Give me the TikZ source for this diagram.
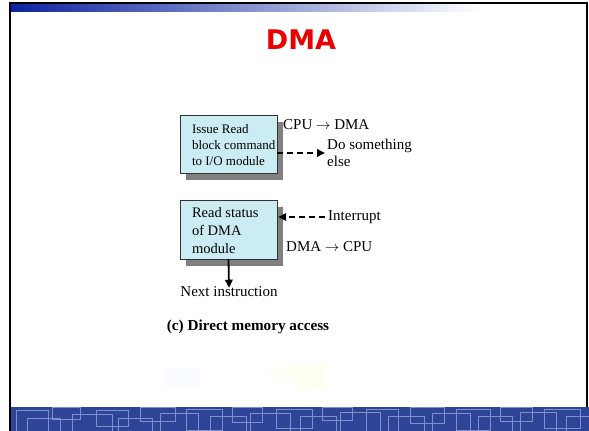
\documentclass[tikz,border=0pt]{standalone}
\usepackage{fontspec}
\setmainfont{Liberation Serif}
\newfontfamily\titlefont{DejaVu Sans}
\usetikzlibrary{arrows.meta,shadows,positioning}
\definecolor{boxfill}{RGB}{204,236,244}
\definecolor{barblue}{RGB}{12,34,160}
\definecolor{bandblue}{RGB}{46,68,150}
\definecolor{bandline}{RGB}{128,144,205}
\definecolor{titlered}{RGB}{235,0,0}
\newcommand{\boxlines}[1]{\begin{tabular}{@{\hspace{11pt}}p{84pt}@{}}\noalign{\vskip4pt}#1\end{tabular}}
\tikzset{
  blk/.style={draw=black!80,fill=boxfill,minimum width=97pt,inner xsep=1pt,inner ysep=0pt,
    drop shadow={shadow xshift=6pt,shadow yshift=-7pt,fill=black!50,opacity=1}},
  lbl/.style={inner sep=0pt,font=\fontsize{15}{17}\selectfont},
  tip/.style={-{Triangle[length=8pt,width=7.5pt]},line width=1.8pt},
  dasharr/.style={tip,dash pattern=on 6pt off 4pt}
}
\begin{document}
\begin{tikzpicture}[x=1pt,y=-1pt]
  \useasboundingbox (0,0) rectangle (589,431);
  % slide frame
  \shade[left color=barblue,right color=white] (10,4) rectangle (480,11);
  \draw[line width=1.6pt] (10,431) -- (10,3) -- (587,3) -- (587,431);
  \fill[cyan!2] (165,367) rectangle (200,386);
  \shade[left color=white,right color=yellow!9,opacity=0.8] (248,365) .. controls (270,372) and (290,384) .. (305,391) -- (325,386) -- (325,365) -- cycle;
  % bottom band
  \fill[bandblue] (11,407) rectangle (589,431);
  \begin{scope}
    \clip (11,407) rectangle (589,431);
    \foreach \xa/\ya/\xb/\yb in {16/410/48/440,27/418/60/440,52/407/80/419,72/414/112/440,
      96/410/128/426,118/418/152/440,140/407/175/421,160/413/198/440,186/409/222/430,
      210/416/246/440,232/407/262/422,250/413/290/440,276/409/312/428,300/416/336/440,
      322/407/352/420,340/412/380/440,366/409/398/431,388/416/424/440,410/407/444/423,
      432/413/470/440,456/409/490/430,478/416/512/440,500/407/532/421,520/412/556/440,
      544/409/580/428,566/416/600/440}
      \draw[bandline,line width=1pt] (\xa,\ya) rectangle (\xb,\yb);
  \end{scope}
  % title
  \node[text=titlered,font=\titlefont\bfseries\fontsize{27}{30}\selectfont] (title) at (301,40) {DMA};
  % boxes
  \node[blk,minimum height=58pt,font=\fontsize{13}{16}\selectfont] (issue) at (228.5,144)
    {\boxlines{Issue Read\\block command\\to I/O module}};
  \node[blk,minimum height=59pt,font=\fontsize{14.5}{18}\selectfont] (status) at (228.5,229.5)
    {\boxlines{Read status\\of DMA\\module}};
  % labels
  \node[lbl,anchor=west] (c2d) at (283,125) {CPU $\rightarrow$ DMA};
  \node[lbl,anchor=west,align=left] (other) at (327,153) {Do something\\else};
  \node[lbl,anchor=west] (intr) at (328,217) {Interrupt};
  \node[lbl,anchor=west] (d2c) at (286,247) {DMA $\rightarrow$ CPU};
  \node[lbl] (next) at (229,292) {Next instruction};
  \node[lbl,font=\bfseries\fontsize{15.2}{17}\selectfont] (cap) at (248,327) {(c) Direct memory access};
  % arrows
  \draw[dasharr] (issue.east |- other.west) -- ([xshift=-2pt]other.west);
  \draw[dasharr] ([xshift=-3pt]intr.west) -- ([xshift=1pt]status.east |- intr.west);
  \draw[tip] (status.south) -- ([yshift=-1pt]next.north);
\end{tikzpicture}
\end{document}
